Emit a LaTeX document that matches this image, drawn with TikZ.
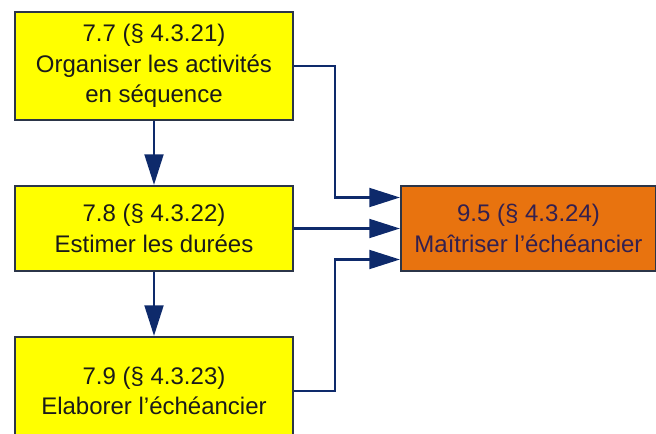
\documentclass[tikz,border=0pt]{standalone}
\usepackage{fontspec}
\setmainfont{Liberation Sans}
\usetikzlibrary{positioning,arrows.meta}
\definecolor{boxyellow}{HTML}{FFFF00}
\definecolor{boxorange}{HTML}{E8730F}
\definecolor{boxline}{HTML}{2B3548}
\definecolor{linkblue}{HTML}{0E2A6B}
\definecolor{darktext}{HTML}{1A1A1A}
\definecolor{purpletext}{HTML}{33204F}
\begin{document}
\begin{tikzpicture}
            [x=0.75pt, y=-0.75pt, node distance=48pt,
             process/.style={draw=boxline, line width=1.5pt, fill=boxyellow, text=darktext,
                             minimum width=208.5pt, align=center,
                             font=\fontsize{18}{23}\selectfont},
             target/.style={process, fill=boxorange, text=purpletext, minimum width=191.25pt},
             link/.style={draw=linkblue, line width=2.2pt, -{Triangle[length=23pt,width=14pt]}}]
            \useasboundingbox (0,0) rectangle (656,434);

            \node[process, minimum height=81pt, anchor=north west] (a) at (14,11)
                {7.7 (§ 4.3.21)\\Organiser les activités\\en séquence};
            \node[process, minimum height=63.75pt, below=of a] (b)
                {7.8 (§ 4.3.22)\\Estimer les durées};
            \node[process, minimum height=81pt, below=of b] (c)
                {7.9 (§ 4.3.23)\\Elaborer l’échéancier};
            \node[target, minimum height=63.75pt, right=79.5pt of b] (d)
                {9.5 (§ 4.3.24)\\Maîtriser l’échéancier};

            \draw[link] (a) -- (b);
            \draw[link] (b) -- (c);

            \draw[link] (a.east) -- ++(41,0) |- ([yshift=23.25pt]d.west);
            \draw[link] (b.east) -- (d.west);
            \draw[link] (c.east) -- ++(41,0) |- ([yshift=-23.25pt]d.west);
         \end{tikzpicture}
\end{document}
